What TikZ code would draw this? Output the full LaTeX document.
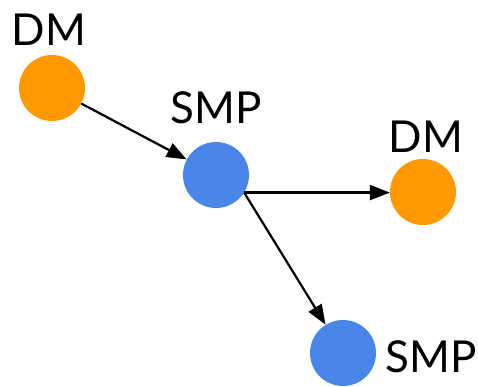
\documentclass[tikz,border=0pt]{standalone}
\usepackage{fontspec}
\setmainfont{Lato}
\usetikzlibrary{arrows.meta}
\definecolor{dmorange}{HTML}{FF9900}
\definecolor{smpblue}{HTML}{4A86E8}
\tikzset{
  dot/.style={circle, minimum size=66pt, inner sep=0pt, draw=none},
  dmdot/.style={dot, fill=dmorange},
  smpdot/.style={dot, fill=smpblue},
  lbl/.style={font=\fontsize{44}{50}\selectfont, anchor=base, inner sep=0pt},
  edge/.style={line width=2.2pt, -{Triangle[length=20pt,width=15pt]}}
}
\begin{document}
\begin{tikzpicture}[x=1pt,y=-1pt]
\useasboundingbox (0,0) rectangle (478,386);
\node[dmdot] (dm1) at (52,88) {};
\node[smpdot] (smp1) at (216,175) {};
\node[dmdot] (dm2) at (423,192) {};
\node[smpdot] (smp2) at (343,353) {};
\node[lbl] (tdm1) at (49,45) {DM};
\node[lbl] (tsmp1) at (216,123) {SMP};
\node[lbl] (tdm2) at (426,152) {DM};
\node[lbl] (tsmp2) at (431,372) {SMP};
\coordinate (s) at (smp1.-32);
\draw[edge] (dm1) -- (smp1);
\draw[edge] (s) -- (dm2.west |- s);
\draw[edge] (s) -- (smp2);
\end{tikzpicture}
\end{document}
